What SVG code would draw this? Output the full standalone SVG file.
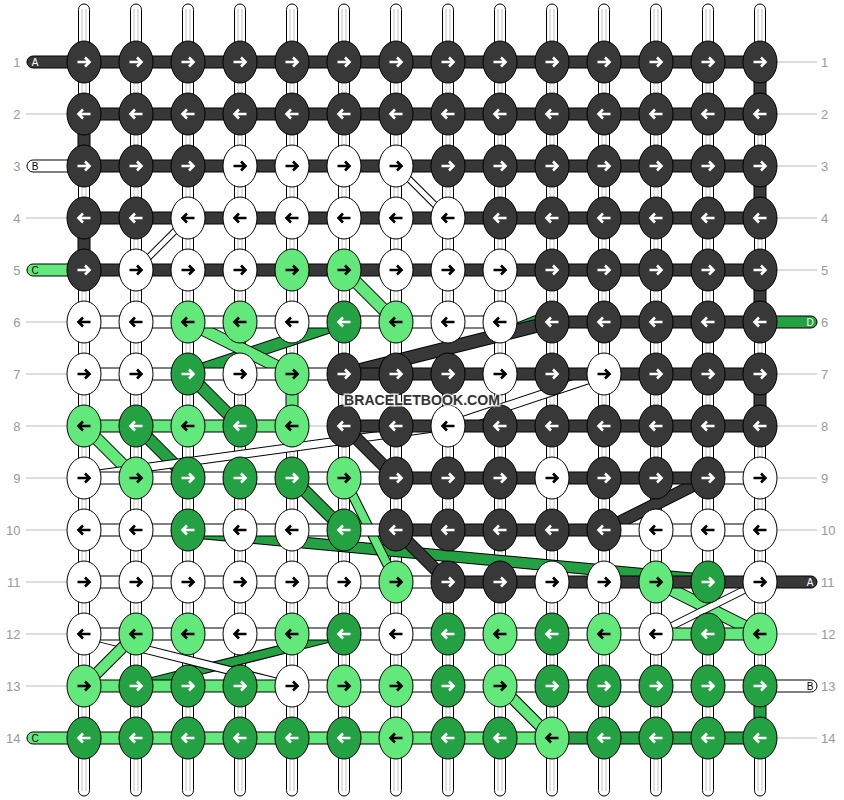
<svg xmlns="http://www.w3.org/2000/svg" width="844" height="800" viewBox="0 0 844 800">
<style>
.D{fill:#383838;color:#fff}
.W{fill:#fff;color:#000}
.L{fill:#63e87b;color:#000}
.G{fill:#24a142;color:#fff}
.gl line{stroke:#bbb;stroke-width:1}
.num{font-family:"Liberation Sans",Arial,sans-serif;font-size:13px;fill:#999}
.pil rect{fill:#fff;stroke:#000;stroke-width:1}
.pil line{stroke:#c4c4c4;stroke-width:1}
.cn rect,.cn path{stroke:#000;stroke-width:1}
.bd line{fill:none;stroke-linecap:butt}
.o{stroke:#000}
.sD{stroke:#383838}.sL{stroke:#63e87b}.sG{stroke:#24a142}.sW{stroke:#fff}
.lt{font-family:"Liberation Sans",Arial,sans-serif;font-size:10px;text-anchor:middle}
.wm{font-family:"Liberation Sans",Arial,sans-serif;font-size:15px;font-weight:bold;fill:#333;stroke:#fff;stroke-opacity:.8;stroke-width:3;paint-order:stroke;text-anchor:middle}
</style>
<defs>
<g id="NR"><ellipse rx="17" ry="21" stroke="#000" stroke-width="1"/><path d="M-6.5 0H5M1-4.5L5.5 0L1 4.5" fill="none" stroke="currentColor" stroke-width="2.6"/></g>
<g id="NL"><ellipse rx="17" ry="21" stroke="#000" stroke-width="1"/><path d="M6.5 0H-5M-1-4.5L-5.5 0L-1 4.5" fill="none" stroke="currentColor" stroke-width="2.6"/></g>
</defs>
<g id="guides" class="gl">
<line x1="26" y1="62" x2="817" y2="62"/><line x1="26" y1="114" x2="817" y2="114"/><line x1="26" y1="166" x2="817" y2="166"/><line x1="26" y1="218" x2="817" y2="218"/><line x1="26" y1="270" x2="817" y2="270"/><line x1="26" y1="322" x2="817" y2="322"/><line x1="26" y1="374" x2="817" y2="374"/><line x1="26" y1="426" x2="817" y2="426"/><line x1="26" y1="478" x2="817" y2="478"/><line x1="26" y1="530" x2="817" y2="530"/><line x1="26" y1="582" x2="817" y2="582"/><line x1="26" y1="634" x2="817" y2="634"/><line x1="26" y1="686" x2="817" y2="686"/><line x1="26" y1="738" x2="817" y2="738"/>
</g>
<g id="row-numbers" class="num">
<g text-anchor="end">
<text x="20.5" y="66.5">1</text><text x="20.5" y="118.5">2</text><text x="20.5" y="170.5">3</text><text x="20.5" y="222.5">4</text><text x="20.5" y="274.5">5</text><text x="20.5" y="326.5">6</text><text x="20.5" y="378.5">7</text><text x="20.5" y="430.5">8</text><text x="20.5" y="482.5">9</text><text x="20.5" y="534.5">10</text><text x="20.5" y="586.5">11</text><text x="20.5" y="638.5">12</text><text x="20.5" y="690.5">13</text><text x="20.5" y="742.5">14</text>
</g>
<g text-anchor="start">
<text x="821" y="66.5">1</text><text x="821" y="118.5">2</text><text x="821" y="170.5">3</text><text x="821" y="222.5">4</text><text x="821" y="274.5">5</text><text x="821" y="326.5">6</text><text x="821" y="378.5">7</text><text x="821" y="430.5">8</text><text x="821" y="482.5">9</text><text x="821" y="534.5">10</text><text x="821" y="586.5">11</text><text x="821" y="638.5">12</text><text x="821" y="690.5">13</text><text x="821" y="742.5">14</text>
</g>
</g>
<g id="pillars" class="pil">
<rect x="78.5" y="4" width="11" height="792" rx="5.5"/><rect x="130.5" y="4" width="11" height="792" rx="5.5"/><rect x="182.5" y="4" width="11" height="792" rx="5.5"/><rect x="234.5" y="4" width="11" height="792" rx="5.5"/><rect x="286.5" y="4" width="11" height="792" rx="5.5"/><rect x="338.5" y="4" width="11" height="792" rx="5.5"/><rect x="390.5" y="4" width="11" height="792" rx="5.5"/><rect x="442.5" y="4" width="11" height="792" rx="5.5"/><rect x="494.5" y="4" width="11" height="792" rx="5.5"/><rect x="546.5" y="4" width="11" height="792" rx="5.5"/><rect x="598.5" y="4" width="11" height="792" rx="5.5"/><rect x="650.5" y="4" width="11" height="792" rx="5.5"/><rect x="702.5" y="4" width="11" height="792" rx="5.5"/><rect x="754.5" y="4" width="11" height="792" rx="5.5"/>
<line x1="82" y1="9" x2="82" y2="791"/><line x1="86" y1="9" x2="86" y2="791"/>
<line x1="134" y1="9" x2="134" y2="791"/><line x1="138" y1="9" x2="138" y2="791"/>
<line x1="186" y1="9" x2="186" y2="791"/><line x1="190" y1="9" x2="190" y2="791"/>
<line x1="238" y1="9" x2="238" y2="791"/><line x1="242" y1="9" x2="242" y2="791"/>
<line x1="290" y1="9" x2="290" y2="791"/><line x1="294" y1="9" x2="294" y2="791"/>
<line x1="342" y1="9" x2="342" y2="791"/><line x1="346" y1="9" x2="346" y2="791"/>
<line x1="394" y1="9" x2="394" y2="791"/><line x1="398" y1="9" x2="398" y2="791"/>
<line x1="446" y1="9" x2="446" y2="791"/><line x1="450" y1="9" x2="450" y2="791"/>
<line x1="498" y1="9" x2="498" y2="791"/><line x1="502" y1="9" x2="502" y2="791"/>
<line x1="550" y1="9" x2="550" y2="791"/><line x1="554" y1="9" x2="554" y2="791"/>
<line x1="602" y1="9" x2="602" y2="791"/><line x1="606" y1="9" x2="606" y2="791"/>
<line x1="654" y1="9" x2="654" y2="791"/><line x1="658" y1="9" x2="658" y2="791"/>
<line x1="706" y1="9" x2="706" y2="791"/><line x1="710" y1="9" x2="710" y2="791"/>
<line x1="758" y1="9" x2="758" y2="791"/><line x1="762" y1="9" x2="762" y2="791"/>
</g>
<g id="connectors">
<g id="carried-strands" class="bd">
<line class="o" stroke-width="7" x1="396" y1="166" x2="448" y2="218"/><line class="sW" stroke-width="5" x1="396" y1="166" x2="448" y2="218"/>
<line class="o" stroke-width="7" x1="188" y1="218" x2="136" y2="270"/><line class="sW" stroke-width="5" x1="188" y1="218" x2="136" y2="270"/>
<line class="o" stroke-width="13" x1="344" y1="270" x2="396" y2="322"/><line class="sL" stroke-width="11" x1="344" y1="270" x2="396" y2="322"/>
<line class="o" stroke-width="13" x1="188" y1="374" x2="344" y2="322"/><line class="sG" stroke-width="11" x1="188" y1="374" x2="344" y2="322"/>
<line class="o" stroke-width="13" x1="188" y1="322" x2="292" y2="374"/><line class="sL" stroke-width="11" x1="188" y1="322" x2="292" y2="374"/>
<line class="o" stroke-width="10" x1="559" y1="311" x2="489" y2="339"/><line class="sG" stroke-width="8" x1="559" y1="311" x2="489" y2="339"/>
<line class="o" stroke-width="14" x1="344" y1="374" x2="552" y2="322"/><line class="sD" stroke-width="12" x1="344" y1="374" x2="552" y2="322"/>
<line class="o" stroke-width="13" x1="188" y1="374" x2="240" y2="426"/><line class="sG" stroke-width="11" x1="188" y1="374" x2="240" y2="426"/>
<line class="o" stroke-width="10" x1="604" y1="374" x2="448" y2="426"/><line class="sW" stroke-width="8" x1="604" y1="374" x2="448" y2="426"/>
<line class="o" stroke-width="13" x1="84" y1="426" x2="136" y2="478"/><line class="sL" stroke-width="11" x1="84" y1="426" x2="136" y2="478"/>
<line class="o" stroke-width="13" x1="136" y1="426" x2="188" y2="478"/><line class="sG" stroke-width="11" x1="136" y1="426" x2="188" y2="478"/>
<line class="o" stroke-width="9" x1="448" y1="426" x2="84" y2="476"/><line class="sW" stroke-width="7" x1="448" y1="426" x2="84" y2="476"/>
<line class="o" stroke-width="13" x1="344" y1="426" x2="396" y2="478"/><line class="sD" stroke-width="11" x1="344" y1="426" x2="396" y2="478"/>
<line class="o" stroke-width="13" x1="292" y1="478" x2="344" y2="530"/><line class="sG" stroke-width="11" x1="292" y1="478" x2="344" y2="530"/>
<line class="o" stroke-width="13" x1="708" y1="478" x2="604" y2="530"/><line class="sD" stroke-width="11" x1="708" y1="478" x2="604" y2="530"/>
<line class="o" stroke-width="12" x1="188" y1="532" x2="708" y2="580"/><line class="sG" stroke-width="10" x1="188" y1="532" x2="708" y2="580"/>
<line class="o" stroke-width="10" x1="344" y1="478" x2="396" y2="582"/><line class="sL" stroke-width="8" x1="344" y1="478" x2="396" y2="582"/>
<line class="o" stroke-width="13" x1="396" y1="530" x2="448" y2="582"/><line class="sD" stroke-width="11" x1="396" y1="530" x2="448" y2="582"/>
<line class="o" stroke-width="13" x1="656" y1="582" x2="760" y2="634"/><line class="sL" stroke-width="11" x1="656" y1="582" x2="760" y2="634"/>
<line class="o" stroke-width="8" x1="760" y1="582" x2="656" y2="634"/><line class="sW" stroke-width="6" x1="760" y1="582" x2="656" y2="634"/>
<line class="o" stroke-width="10" x1="344" y1="634" x2="136" y2="686"/><line class="sG" stroke-width="8" x1="344" y1="634" x2="136" y2="686"/>
<line class="o" stroke-width="9" x1="84" y1="634" x2="292" y2="686"/><line class="sW" stroke-width="7" x1="84" y1="634" x2="292" y2="686"/>
<line class="o" stroke-width="12" x1="136" y1="634" x2="84" y2="686"/><line class="sL" stroke-width="10" x1="136" y1="634" x2="84" y2="686"/>
<line class="o" stroke-width="12" x1="500" y1="686" x2="552" y2="738"/><line class="sL" stroke-width="10" x1="500" y1="686" x2="552" y2="738"/>
</g>
<g id="row-threads" class="cn">
<rect class="D" x="84" y="56" width="676" height="12"/>
<rect class="D" x="84" y="108" width="676" height="12"/>
<rect class="D" x="84" y="160" width="676" height="12"/>
<rect class="D" x="84" y="212" width="676" height="12"/>
<rect class="D" x="84" y="264" width="676" height="12"/>
<rect class="W" x="84" y="316" width="416" height="12"/><rect class="D" x="552" y="316" width="208" height="12"/>
<rect class="W" x="84" y="368" width="260" height="12"/><rect class="D" x="344" y="368" width="416" height="12"/>
<rect class="L" x="84" y="420" width="208" height="12"/><rect class="D" x="344" y="420" width="416" height="12"/>
<rect class="W" x="84" y="472" width="312" height="12"/><rect class="D" x="396" y="472" width="312" height="12"/><rect class="W" x="708" y="472" width="52" height="12"/>
<rect class="W" x="84" y="524" width="312" height="12"/><rect class="D" x="396" y="524" width="208" height="12"/><rect class="W" x="604" y="524" width="156" height="12"/>
<rect class="W" x="84" y="576" width="364" height="12"/><rect class="D" x="448" y="576" width="312" height="12"/>
<rect class="W" x="84" y="628" width="572" height="12"/><rect class="L" x="656" y="628" width="104" height="12"/>
<rect class="L" x="84" y="680" width="208" height="12"/><rect class="W" x="292" y="680" width="468" height="12"/>
<rect class="L" x="84" y="732" width="468" height="12"/><rect class="G" x="552" y="732" width="208" height="12"/>
<rect class="D" x="754" y="62" width="12" height="52"/>
<rect class="D" x="754" y="166" width="12" height="52"/>
<rect class="D" x="754" y="270" width="12" height="52"/>
<rect class="D" x="754" y="374" width="12" height="52"/>
<rect class="G" x="754" y="686" width="12" height="52"/>
<rect class="D" x="78" y="114" width="12" height="52"/>
<rect class="D" x="78" y="218" width="12" height="52"/>
<rect class="L" x="286" y="374" width="12" height="52"/>
<path class="D" d="M79 56H33a6 6 0 0 0 0 12H79Z"/>
<path class="W" d="M79 160H33a6 6 0 0 0 0 12H79Z"/>
<path class="L" d="M79 264H33a6 6 0 0 0 0 12H79Z"/>
<path class="L" d="M79 732H33a6 6 0 0 0 0 12H79Z"/>
<path class="G" d="M765 316H811a6 6 0 0 1 0 12H765Z"/>
<path class="D" d="M765 576H811a6 6 0 0 1 0 12H765Z"/>
<path class="W" d="M765 680H811a6 6 0 0 1 0 12H765Z"/>
</g>
</g>
<g id="thread-labels" class="lt">
<text x="35" y="65.5" fill="#fff">A</text>
<text x="35" y="169.5" fill="#000">B</text>
<text x="35" y="273.5" fill="#000">C</text>
<text x="35" y="741.5" fill="#000">C</text>
<text x="810" y="325.5" fill="#fff">D</text>
<text x="810" y="585.5" fill="#fff">A</text>
<text x="810" y="689.5" fill="#000">B</text>
</g>
<g id="knots">
<g id="n1-1" class="D"><use href="#NR" x="84" y="62"/></g><g id="n1-2" class="D"><use href="#NR" x="136" y="62"/></g><g id="n1-3" class="D"><use href="#NR" x="188" y="62"/></g><g id="n1-4" class="D"><use href="#NR" x="240" y="62"/></g><g id="n1-5" class="D"><use href="#NR" x="292" y="62"/></g><g id="n1-6" class="D"><use href="#NR" x="344" y="62"/></g><g id="n1-7" class="D"><use href="#NR" x="396" y="62"/></g><g id="n1-8" class="D"><use href="#NR" x="448" y="62"/></g><g id="n1-9" class="D"><use href="#NR" x="500" y="62"/></g><g id="n1-10" class="D"><use href="#NR" x="552" y="62"/></g><g id="n1-11" class="D"><use href="#NR" x="604" y="62"/></g><g id="n1-12" class="D"><use href="#NR" x="656" y="62"/></g><g id="n1-13" class="D"><use href="#NR" x="708" y="62"/></g><g id="n1-14" class="D"><use href="#NR" x="760" y="62"/></g>
<g id="n2-1" class="D"><use href="#NL" x="84" y="114"/></g><g id="n2-2" class="D"><use href="#NL" x="136" y="114"/></g><g id="n2-3" class="D"><use href="#NL" x="188" y="114"/></g><g id="n2-4" class="D"><use href="#NL" x="240" y="114"/></g><g id="n2-5" class="D"><use href="#NL" x="292" y="114"/></g><g id="n2-6" class="D"><use href="#NL" x="344" y="114"/></g><g id="n2-7" class="D"><use href="#NL" x="396" y="114"/></g><g id="n2-8" class="D"><use href="#NL" x="448" y="114"/></g><g id="n2-9" class="D"><use href="#NL" x="500" y="114"/></g><g id="n2-10" class="D"><use href="#NL" x="552" y="114"/></g><g id="n2-11" class="D"><use href="#NL" x="604" y="114"/></g><g id="n2-12" class="D"><use href="#NL" x="656" y="114"/></g><g id="n2-13" class="D"><use href="#NL" x="708" y="114"/></g><g id="n2-14" class="D"><use href="#NL" x="760" y="114"/></g>
<g id="n3-1" class="D"><use href="#NR" x="84" y="166"/></g><g id="n3-2" class="D"><use href="#NR" x="136" y="166"/></g><g id="n3-3" class="D"><use href="#NR" x="188" y="166"/></g><g id="n3-4" class="W"><use href="#NR" x="240" y="166"/></g><g id="n3-5" class="W"><use href="#NR" x="292" y="166"/></g><g id="n3-6" class="W"><use href="#NR" x="344" y="166"/></g><g id="n3-7" class="W"><use href="#NR" x="396" y="166"/></g><g id="n3-8" class="D"><use href="#NR" x="448" y="166"/></g><g id="n3-9" class="D"><use href="#NR" x="500" y="166"/></g><g id="n3-10" class="D"><use href="#NR" x="552" y="166"/></g><g id="n3-11" class="D"><use href="#NR" x="604" y="166"/></g><g id="n3-12" class="D"><use href="#NR" x="656" y="166"/></g><g id="n3-13" class="D"><use href="#NR" x="708" y="166"/></g><g id="n3-14" class="D"><use href="#NR" x="760" y="166"/></g>
<g id="n4-1" class="D"><use href="#NL" x="84" y="218"/></g><g id="n4-2" class="D"><use href="#NL" x="136" y="218"/></g><g id="n4-3" class="W"><use href="#NL" x="188" y="218"/></g><g id="n4-4" class="W"><use href="#NL" x="240" y="218"/></g><g id="n4-5" class="W"><use href="#NL" x="292" y="218"/></g><g id="n4-6" class="W"><use href="#NL" x="344" y="218"/></g><g id="n4-7" class="W"><use href="#NL" x="396" y="218"/></g><g id="n4-8" class="W"><use href="#NL" x="448" y="218"/></g><g id="n4-9" class="D"><use href="#NL" x="500" y="218"/></g><g id="n4-10" class="D"><use href="#NL" x="552" y="218"/></g><g id="n4-11" class="D"><use href="#NL" x="604" y="218"/></g><g id="n4-12" class="D"><use href="#NL" x="656" y="218"/></g><g id="n4-13" class="D"><use href="#NL" x="708" y="218"/></g><g id="n4-14" class="D"><use href="#NL" x="760" y="218"/></g>
<g id="n5-1" class="D"><use href="#NR" x="84" y="270"/></g><g id="n5-2" class="W"><use href="#NR" x="136" y="270"/></g><g id="n5-3" class="W"><use href="#NR" x="188" y="270"/></g><g id="n5-4" class="W"><use href="#NR" x="240" y="270"/></g><g id="n5-5" class="L"><use href="#NR" x="292" y="270"/></g><g id="n5-6" class="L"><use href="#NR" x="344" y="270"/></g><g id="n5-7" class="W"><use href="#NR" x="396" y="270"/></g><g id="n5-8" class="W"><use href="#NR" x="448" y="270"/></g><g id="n5-9" class="W"><use href="#NR" x="500" y="270"/></g><g id="n5-10" class="D"><use href="#NR" x="552" y="270"/></g><g id="n5-11" class="D"><use href="#NR" x="604" y="270"/></g><g id="n5-12" class="D"><use href="#NR" x="656" y="270"/></g><g id="n5-13" class="D"><use href="#NR" x="708" y="270"/></g><g id="n5-14" class="D"><use href="#NR" x="760" y="270"/></g>
<g id="n6-1" class="W"><use href="#NL" x="84" y="322"/></g><g id="n6-2" class="W"><use href="#NL" x="136" y="322"/></g><g id="n6-3" class="L"><use href="#NL" x="188" y="322"/></g><g id="n6-4" class="L"><use href="#NL" x="240" y="322"/></g><g id="n6-5" class="W"><use href="#NL" x="292" y="322"/></g><g id="n6-6" class="G"><use href="#NL" x="344" y="322"/></g><g id="n6-7" class="L"><use href="#NL" x="396" y="322"/></g><g id="n6-8" class="W"><use href="#NL" x="448" y="322"/></g><g id="n6-9" class="W"><use href="#NL" x="500" y="322"/></g><g id="n6-10" class="D"><use href="#NL" x="552" y="322"/></g><g id="n6-11" class="D"><use href="#NL" x="604" y="322"/></g><g id="n6-12" class="D"><use href="#NL" x="656" y="322"/></g><g id="n6-13" class="D"><use href="#NL" x="708" y="322"/></g><g id="n6-14" class="D"><use href="#NL" x="760" y="322"/></g>
<g id="n7-1" class="W"><use href="#NR" x="84" y="374"/></g><g id="n7-2" class="W"><use href="#NR" x="136" y="374"/></g><g id="n7-3" class="G"><use href="#NR" x="188" y="374"/></g><g id="n7-4" class="W"><use href="#NR" x="240" y="374"/></g><g id="n7-5" class="L"><use href="#NR" x="292" y="374"/></g><g id="n7-6" class="D"><use href="#NR" x="344" y="374"/></g><g id="n7-7" class="D"><use href="#NR" x="396" y="374"/></g><g id="n7-8" class="D"><use href="#NR" x="448" y="374"/></g><g id="n7-9" class="W"><use href="#NR" x="500" y="374"/></g><g id="n7-10" class="D"><use href="#NR" x="552" y="374"/></g><g id="n7-11" class="W"><use href="#NR" x="604" y="374"/></g><g id="n7-12" class="D"><use href="#NR" x="656" y="374"/></g><g id="n7-13" class="D"><use href="#NR" x="708" y="374"/></g><g id="n7-14" class="D"><use href="#NR" x="760" y="374"/></g>
<g id="n8-1" class="L"><use href="#NL" x="84" y="426"/></g><g id="n8-2" class="G"><use href="#NL" x="136" y="426"/></g><g id="n8-3" class="L"><use href="#NL" x="188" y="426"/></g><g id="n8-4" class="G"><use href="#NL" x="240" y="426"/></g><g id="n8-5" class="L"><use href="#NL" x="292" y="426"/></g><g id="n8-6" class="D"><use href="#NL" x="344" y="426"/></g><g id="n8-7" class="D"><use href="#NL" x="396" y="426"/></g><g id="n8-8" class="W"><use href="#NL" x="448" y="426"/></g><g id="n8-9" class="D"><use href="#NL" x="500" y="426"/></g><g id="n8-10" class="D"><use href="#NL" x="552" y="426"/></g><g id="n8-11" class="D"><use href="#NL" x="604" y="426"/></g><g id="n8-12" class="D"><use href="#NL" x="656" y="426"/></g><g id="n8-13" class="D"><use href="#NL" x="708" y="426"/></g><g id="n8-14" class="D"><use href="#NL" x="760" y="426"/></g>
<g id="n9-1" class="W"><use href="#NR" x="84" y="478"/></g><g id="n9-2" class="L"><use href="#NR" x="136" y="478"/></g><g id="n9-3" class="G"><use href="#NR" x="188" y="478"/></g><g id="n9-4" class="G"><use href="#NR" x="240" y="478"/></g><g id="n9-5" class="G"><use href="#NR" x="292" y="478"/></g><g id="n9-6" class="L"><use href="#NR" x="344" y="478"/></g><g id="n9-7" class="D"><use href="#NR" x="396" y="478"/></g><g id="n9-8" class="D"><use href="#NR" x="448" y="478"/></g><g id="n9-9" class="D"><use href="#NR" x="500" y="478"/></g><g id="n9-10" class="W"><use href="#NR" x="552" y="478"/></g><g id="n9-11" class="D"><use href="#NR" x="604" y="478"/></g><g id="n9-12" class="D"><use href="#NR" x="656" y="478"/></g><g id="n9-13" class="D"><use href="#NR" x="708" y="478"/></g><g id="n9-14" class="W"><use href="#NR" x="760" y="478"/></g>
<g id="n10-1" class="W"><use href="#NL" x="84" y="530"/></g><g id="n10-2" class="W"><use href="#NL" x="136" y="530"/></g><g id="n10-3" class="G"><use href="#NL" x="188" y="530"/></g><g id="n10-4" class="W"><use href="#NL" x="240" y="530"/></g><g id="n10-5" class="W"><use href="#NL" x="292" y="530"/></g><g id="n10-6" class="G"><use href="#NL" x="344" y="530"/></g><g id="n10-7" class="D"><use href="#NL" x="396" y="530"/></g><g id="n10-8" class="D"><use href="#NL" x="448" y="530"/></g><g id="n10-9" class="D"><use href="#NL" x="500" y="530"/></g><g id="n10-10" class="D"><use href="#NL" x="552" y="530"/></g><g id="n10-11" class="D"><use href="#NL" x="604" y="530"/></g><g id="n10-12" class="W"><use href="#NL" x="656" y="530"/></g><g id="n10-13" class="W"><use href="#NL" x="708" y="530"/></g><g id="n10-14" class="W"><use href="#NL" x="760" y="530"/></g>
<g id="n11-1" class="W"><use href="#NR" x="84" y="582"/></g><g id="n11-2" class="W"><use href="#NR" x="136" y="582"/></g><g id="n11-3" class="W"><use href="#NR" x="188" y="582"/></g><g id="n11-4" class="W"><use href="#NR" x="240" y="582"/></g><g id="n11-5" class="W"><use href="#NR" x="292" y="582"/></g><g id="n11-6" class="W"><use href="#NR" x="344" y="582"/></g><g id="n11-7" class="L"><use href="#NR" x="396" y="582"/></g><g id="n11-8" class="D"><use href="#NR" x="448" y="582"/></g><g id="n11-9" class="D"><use href="#NR" x="500" y="582"/></g><g id="n11-10" class="W"><use href="#NR" x="552" y="582"/></g><g id="n11-11" class="W"><use href="#NR" x="604" y="582"/></g><g id="n11-12" class="L"><use href="#NR" x="656" y="582"/></g><g id="n11-13" class="G"><use href="#NR" x="708" y="582"/></g><g id="n11-14" class="W"><use href="#NR" x="760" y="582"/></g>
<g id="n12-1" class="W"><use href="#NL" x="84" y="634"/></g><g id="n12-2" class="L"><use href="#NL" x="136" y="634"/></g><g id="n12-3" class="L"><use href="#NL" x="188" y="634"/></g><g id="n12-4" class="W"><use href="#NL" x="240" y="634"/></g><g id="n12-5" class="L"><use href="#NL" x="292" y="634"/></g><g id="n12-6" class="G"><use href="#NL" x="344" y="634"/></g><g id="n12-7" class="W"><use href="#NL" x="396" y="634"/></g><g id="n12-8" class="G"><use href="#NL" x="448" y="634"/></g><g id="n12-9" class="L"><use href="#NL" x="500" y="634"/></g><g id="n12-10" class="G"><use href="#NL" x="552" y="634"/></g><g id="n12-11" class="L"><use href="#NL" x="604" y="634"/></g><g id="n12-12" class="W"><use href="#NL" x="656" y="634"/></g><g id="n12-13" class="G"><use href="#NL" x="708" y="634"/></g><g id="n12-14" class="L"><use href="#NL" x="760" y="634"/></g>
<g id="n13-1" class="L"><use href="#NR" x="84" y="686"/></g><g id="n13-2" class="G"><use href="#NR" x="136" y="686"/></g><g id="n13-3" class="G"><use href="#NR" x="188" y="686"/></g><g id="n13-4" class="G"><use href="#NR" x="240" y="686"/></g><g id="n13-5" class="W"><use href="#NR" x="292" y="686"/></g><g id="n13-6" class="L"><use href="#NR" x="344" y="686"/></g><g id="n13-7" class="L"><use href="#NR" x="396" y="686"/></g><g id="n13-8" class="G"><use href="#NR" x="448" y="686"/></g><g id="n13-9" class="L"><use href="#NR" x="500" y="686"/></g><g id="n13-10" class="G"><use href="#NR" x="552" y="686"/></g><g id="n13-11" class="G"><use href="#NR" x="604" y="686"/></g><g id="n13-12" class="G"><use href="#NR" x="656" y="686"/></g><g id="n13-13" class="G"><use href="#NR" x="708" y="686"/></g><g id="n13-14" class="G"><use href="#NR" x="760" y="686"/></g>
<g id="n14-1" class="G"><use href="#NL" x="84" y="738"/></g><g id="n14-2" class="G"><use href="#NL" x="136" y="738"/></g><g id="n14-3" class="G"><use href="#NL" x="188" y="738"/></g><g id="n14-4" class="G"><use href="#NL" x="240" y="738"/></g><g id="n14-5" class="G"><use href="#NL" x="292" y="738"/></g><g id="n14-6" class="G"><use href="#NL" x="344" y="738"/></g><g id="n14-7" class="L"><use href="#NL" x="396" y="738"/></g><g id="n14-8" class="G"><use href="#NL" x="448" y="738"/></g><g id="n14-9" class="G"><use href="#NL" x="500" y="738"/></g><g id="n14-10" class="L"><use href="#NL" x="552" y="738"/></g><g id="n14-11" class="G"><use href="#NL" x="604" y="738"/></g><g id="n14-12" class="G"><use href="#NL" x="656" y="738"/></g><g id="n14-13" class="G"><use href="#NL" x="708" y="738"/></g><g id="n14-14" class="G"><use href="#NL" x="760" y="738"/></g>
</g>
<text class="wm" x="422" y="405" textLength="156" lengthAdjust="spacingAndGlyphs">BRACELETBOOK.COM</text>
</svg>
